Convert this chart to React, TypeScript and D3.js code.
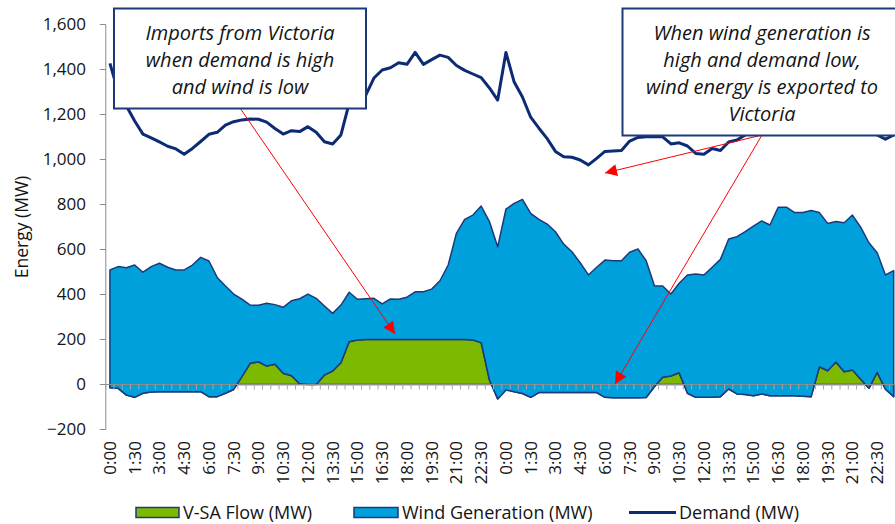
import React from 'react'
import * as d3 from 'd3'

// x labels every 1.5 h, repeated for each of the two days
const dayTicks = ['0:00', '1:30', '3:00', '4:30', '6:00', '7:30', '9:00', '10:30',
  '12:00', '13:30', '15:00', '16:30', '18:00', '19:30', '21:00', '22:30']
const slotsPerDay = 48
const days = 2

// half-hourly values (MW), two days
const vsaFlow = [
  -14, -17, -47, -57, -39, -33, -32, -32, -32, -32,
  -32, -32, -54, -54, -39, -22, 35, 94, 101, 82,
  90, 50, 39, 3, 0, 0, 42, 60, 97, 190,
  198, 200, 200, 200, 200, 200, 200, 200, 200, 200,
  200, 200, 200, 200, 198, 186, 20, -64, -24, -32,
  -40, -57, -36, -36, -36, -36, -36, -36, -36, -36,
  -57, -59, -59, -59, -59, -58, -10, 32, 38, 52,
  -39, -57, -57, -57, -54, -20, -42, -44, -50, -42,
  -50, -50, -50, -50, -52, -54, 79, 61, 100, 57,
  64, 23, -17, 54, -21, -54,
]
const windGen = [
  523, 541, 566, 588, 538, 557, 571, 553, 541, 541,
  563, 597, 603, 530, 477, 424, 344, 259, 251, 279,
  265, 293, 333, 378, 402, 383, 307, 256, 256, 220,
  181, 181, 183, 158, 180, 179, 188, 212, 212, 224,
  261, 331, 472, 534, 555, 607, 704, 676, 803, 837,
  863, 818, 770, 749, 715, 660, 626, 577, 523, 557,
  610, 609, 609, 647, 661, 608, 449, 406, 364, 398,
  526, 548, 544, 578, 610, 667, 699, 723, 754, 769,
  759, 838, 838, 814, 816, 827, 685, 655, 624, 662,
  689, 676, 647, 532, 508, 560,
]
const demand = [
  1427, 1300, 1238, 1171, 1113, 1096, 1078, 1059, 1047, 1023,
  1049, 1080, 1112, 1121, 1153, 1168, 1176, 1180, 1179, 1166,
  1138, 1113, 1128, 1124, 1146, 1121, 1079, 1069, 1109, 1250,
  1270, 1285, 1362, 1398, 1408, 1430, 1423, 1476, 1423, 1444,
  1464, 1454, 1418, 1396, 1380, 1364, 1318, 1264, 1476, 1344,
  1278, 1188, 1139, 1093, 1036, 1012, 1010, 998, 976, 1005,
  1036, 1038, 1040, 1082, 1098, 1101, 1101, 1101, 1069, 1074,
  1060, 1027, 1023, 1049, 1040, 1078, 1087, 1109, 1130, 1160,
  1190, 1230, 1270, 1300, 1330, 1350, 1370, 1360, 1330, 1280,
  1230, 1180, 1140, 1109, 1090, 1109,
]
const yTicks = [-200, 0, 200, 400, 600, 800, 1000, 1200, 1400, 1600]
const seriesNames = ['V-SA Flow (MW)', 'Wind Generation (MW)', 'Demand (MW)']
const note1 = ['Imports from Victoria', 'when demand is high', 'and wind is low']
const note2 = ['When wind generation is', 'high and demand low,', 'wind energy is exported to', 'Victoria']

const W = 895
const H = 524
const FONT = '"Open Sans", Lato, sans-serif'
const NAVY = '#1c3a78'
const LINE = '#0d2b74'
const BLUE = '#00a0dd'
const GREEN = '#7cb900'
const GREY = '#8c8c8c'
const INK = '#141414'

export default function App() {
  const n = slotsPerDay * days
  const idx = d3.range(n)

  const x = d3.scalePoint<number>().domain(idx).range([105.8, 897.8]).padding(0.5)
  const y = d3.scaleLinear().domain([-200, 1600]).range([429.5, 24.5])
  const step = x.step()
  const left = 105.8

  const rows = idx.map(i => ({ flow: vsaFlow[i], wind: windGen[i] }))
  const stacked = d3.stack<any>().keys(['flow', 'wind'])(rows)

  const area = d3.area<any>()
    .x((_, i) => x(i)!)
    .y0(d => y(d[0]))
    .y1(d => y(d[1]))

  const line = d3.line<number>()
    .x((_, i) => x(i)!)
    .y(d => y(d))

  const fmt = d3.format(',')

  return (
    <svg width={W} height={H} style={{ position: 'fixed', left: 0, top: 0, background: '#fff' }}
      fontFamily={FONT}>
      <defs>
        <marker id="ah" viewBox="0 0 10 10" refX="10" refY="5" markerWidth="13" markerHeight="12"
          markerUnits="userSpaceOnUse" orient="auto">
          <path d="M0,0 L10,5 L0,10 z" fill="#ff0000" />
        </marker>
      </defs>

      {/* areas: V-SA flow then wind stacked on top of it */}
      <path d={area(stacked[0] as any)!} fill={GREEN} stroke={NAVY} strokeWidth={1.5} strokeLinejoin="round" />
      <path d={area(stacked[1] as any)!} fill={BLUE} stroke={NAVY} strokeWidth={1.5} strokeLinejoin="round" />

      {/* y axis */}
      <line x1={left} x2={left} y1={y(-200)} y2={y(1600)} stroke={GREY} strokeWidth={1} />
      {yTicks.map(t => (
        <g key={t}>
          <line x1={left - 6} x2={left} y1={y(t)} y2={y(t)} stroke={GREY} />
          <text x={86} y={y(t)} dy="0.35em" textAnchor="end" fontSize={17} fill={INK}>{fmt(t)}</text>
        </g>
      ))}
      <text transform={`translate(22,${y(700)}) rotate(-90)`} textAnchor="middle" dy="0.35em"
        fontSize={17.5} fill={INK}>Energy (MW)</text>

      {/* category axis at zero */}
      <line x1={left} x2={W} y1={y(0)} y2={y(0)} stroke={GREY} strokeWidth={1.2} />
      {d3.range(n + 1).map(k => (
        <line key={k} x1={left + k * step} x2={left + k * step} y1={y(0)} y2={y(0) + 5}
          stroke="#a6a6a6" strokeWidth={1} />
      ))}
      {idx.filter(i => i % 3 === 0).map(i => (
        <text key={i} transform={`translate(${x(i)},441) rotate(-90)`} textAnchor="end" dy="0.35em"
          fontSize={17} fill={INK}>{dayTicks[(i % slotsPerDay) / 3]}</text>
      ))}

      {/* demand */}
      <path d={line(demand)!} fill="none" stroke={LINE} strokeWidth={3} strokeLinejoin="round" />

      {/* annotations */}
      <line x1={240} y1={108} x2={395} y2={334} stroke="#ff0000" strokeWidth={1} markerEnd="url(#ah)" />
      <line x1={762} y1={135} x2={605} y2={173} stroke="#ff0000" strokeWidth={1} markerEnd="url(#ah)" />
      <line x1={762} y1={135} x2={615} y2={384} stroke="#ff0000" strokeWidth={1} markerEnd="url(#ah)" />

      <rect x={114} y={8.5} width={252} height={100} fill="#fff" stroke={NAVY} strokeWidth={2} />
      {note1.map((t, i) => (
        <text key={t} x={240} y={39.5 + i * 27} textAnchor="middle" fontSize={20} fontStyle="italic"
          fill={INK}>{t}</text>
      ))}
      <rect x={622.5} y={8.5} width={290} height={127} fill="#fff" stroke={NAVY} strokeWidth={2} />
      {note2.map((t, i) => (
        <text key={t} x={762} y={39.5 + i * 27} textAnchor="middle" fontSize={20} fontStyle="italic"
          fill={INK}>{t}</text>
      ))}

      {/* legend */}
      <rect x={136} y={507.5} width={43} height={10} fill={GREEN} stroke={NAVY} strokeWidth={1.5} />
      <text x={183} y={512.5} dy="0.35em" fontSize={18} fill={INK}>{seriesNames[0]}</text>
      <rect x={354} y={507.5} width={44} height={10} fill={BLUE} stroke={NAVY} strokeWidth={1.5} />
      <text x={402} y={512.5} dy="0.35em" fontSize={18} fill={INK}>{seriesNames[1]}</text>
      <line x1={629} x2={676} y1={512.5} y2={512.5} stroke={LINE} strokeWidth={3} />
      <text x={679} y={512.5} dy="0.35em" fontSize={18} fill={INK}>{seriesNames[2]}</text>
    </svg>
  )
}
